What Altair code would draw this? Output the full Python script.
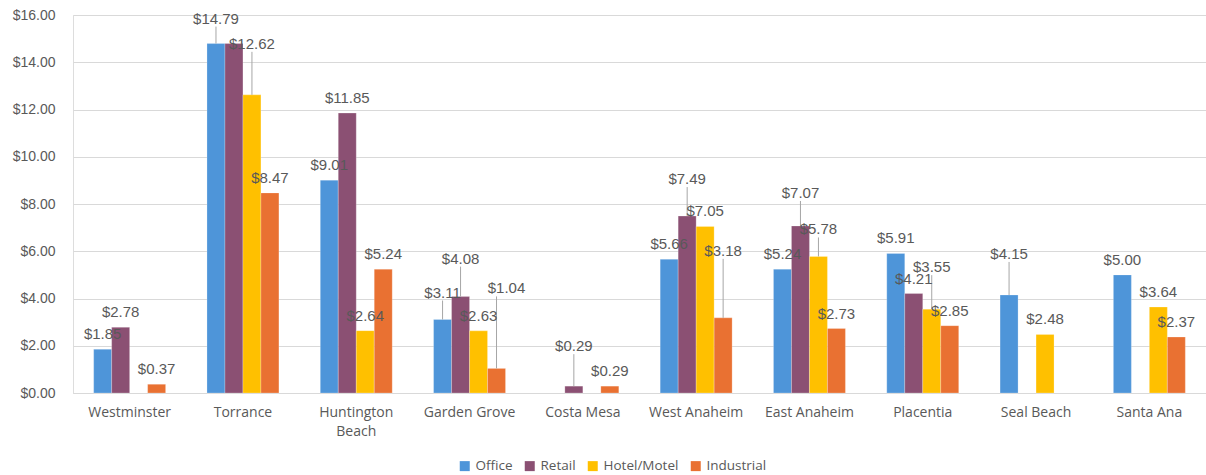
import altair as alt
import pandas as pd

categories = ["Westminster", "Torrance", "Huntington Beach", "Garden Grove", "Costa Mesa",
              "West Anaheim", "East Anaheim", "Placentia", "Seal Beach", "Santa Ana"]
series = ["Office", "Retail", "Hotel/Motel", "Industrial"]
office = [1.85, 14.79, 9.01, 3.11, None, 5.66, 5.24, 5.91, 4.15, 5.00]
retail = [2.78, 14.79, 11.85, 4.08, 0.29, 7.49, 7.07, 4.21, None, None]
hotel = [None, 12.62, 2.64, 2.63, None, 7.05, 5.78, 3.55, 2.48, 3.64]
industrial = [0.37, 8.47, 5.24, 1.04, 0.29, 3.18, 2.73, 2.85, None, 2.37]
colors = ["#4E95D9", "#8B5073", "#FFC000", "#E97132"]
y_ticks = [0, 2, 4, 6, 8, 10, 12, 14, 16]

# label placement style (extra lift in px, horizontal shift in px); hidden labels
LABEL_LIFT = {
    ("Torrance", "Office"): (10, 0),
    ("Torrance", "Hotel/Motel"): (36, 0),
    ("Garden Grove", "Office"): (12, 0),
    ("Garden Grove", "Retail"): (23, 0),
    ("Garden Grove", "Industrial"): (65, 10),
    ("Costa Mesa", "Retail"): (25, 0),
    ("West Anaheim", "Retail"): (22, 0),
    ("West Anaheim", "Industrial"): (52, 0),
    ("East Anaheim", "Retail"): (18, 0),
    ("East Anaheim", "Hotel/Motel"): (12, 0),
    ("Placentia", "Hotel/Motel"): (27, 0),
    ("Seal Beach", "Office"): (26, 0),
}
HIDDEN = {("Torrance", "Retail")}

W, H = 1133, 378
PX = H / 16.0

rows = []
for s, vals in zip(series, [office, retail, hotel, industrial]):
    for c, v in zip(categories, vals):
        if v is None:
            continue
        lift, dx = LABEL_LIFT.get((c, s), (0, 0))
        rows.append({
            "category": c, "series": s, "value": v,
            "label": "" if (c, s) in HIDDEN else f"${v:.2f}",
            "label_y": v + (15 + lift) / PX,
            "lead_top": v + (15 + lift - 8) / PX,
            "lead": lift > 8 and (c, s) not in HIDDEN,
            "dx": dx,
        })
df = pd.DataFrame(rows)

x_enc = alt.X("category:N", sort=categories,
              scale=alt.Scale(paddingInner=0.365, paddingOuter=0.1825),
              axis=alt.Axis(title=None, labelAngle=0, ticks=False, domain=True,
                            domainColor="#D9D9D9", labelColor="#595959",
                            labelFontSize=14, labelFont="Open Sans", labelPadding=12,
                            labelLineHeight=19,
                            labelExpr="datum.label == 'Huntington Beach' ? ['Huntington', 'Beach'] : datum.label"))
xoff = alt.XOffset("series:N", sort=series, scale=alt.Scale(paddingInner=0, paddingOuter=0))

base = alt.Chart(df)

bars = base.mark_bar(stroke="white", strokeWidth=0.4, strokeOpacity=0.6).encode(
    x=x_enc,
    xOffset=xoff,
    y=alt.Y("value:Q", scale=alt.Scale(domain=[0, 16], nice=False, zero=True),
            axis=alt.Axis(title=None, values=y_ticks, format="$.2f", ticks=False,
                          domain=False, gridColor="#D9D9D9", gridWidth=1,
                          labelColor="#595959", labelFontSize=14,
                          labelFont="Liberation Sans", labelPadding=18)),
    color=alt.Color("series:N", sort=series,
                    scale=alt.Scale(domain=series, range=colors),
                    legend=alt.Legend(title=None, orient="none", legendX=385, legendY=444,
                                      direction="horizontal", symbolType="square",
                                      symbolSize=100, symbolStrokeWidth=0,
                                      labelFontSize=13.5, labelColor="#595959",
                                      labelFont="Open Sans", columnPadding=10,
                                      labelOffset=4)),
)

leaders = base.transform_filter("datum.lead").mark_rule(color="#A6A6A6", strokeWidth=1).encode(
    x=alt.X("category:N", sort=categories),
    xOffset=alt.XOffset("series:N", sort=series),
    y="value:Q",
    y2="lead_top:Q",
)

text_main = base.transform_filter("datum.dx == 0").mark_text(
    baseline="middle", align="center", fontSize=15, font="Liberation Sans", color="#595959"
).encode(
    x=alt.X("category:N", sort=categories),
    xOffset=alt.XOffset("series:N", sort=series),
    y="label_y:Q",
    text="label:N",
)

text_shift = base.transform_filter("datum.dx == 10").mark_text(
    baseline="middle", align="center", fontSize=15, font="Liberation Sans", color="#595959", dx=10
).encode(
    x=alt.X("category:N", sort=categories),
    xOffset=alt.XOffset("series:N", sort=series),
    y="label_y:Q",
    text="label:N",
)

chart = alt.layer(bars, leaders, text_main, text_shift).properties(
    width=W, height=H, autosize="none",
    padding={"left": 73, "top": 15, "right": 0, "bottom": 82},
).configure_view(stroke=None).configure(background="white")

chart.save("out.html", embed_options={"renderer": "svg", "actions": False})
